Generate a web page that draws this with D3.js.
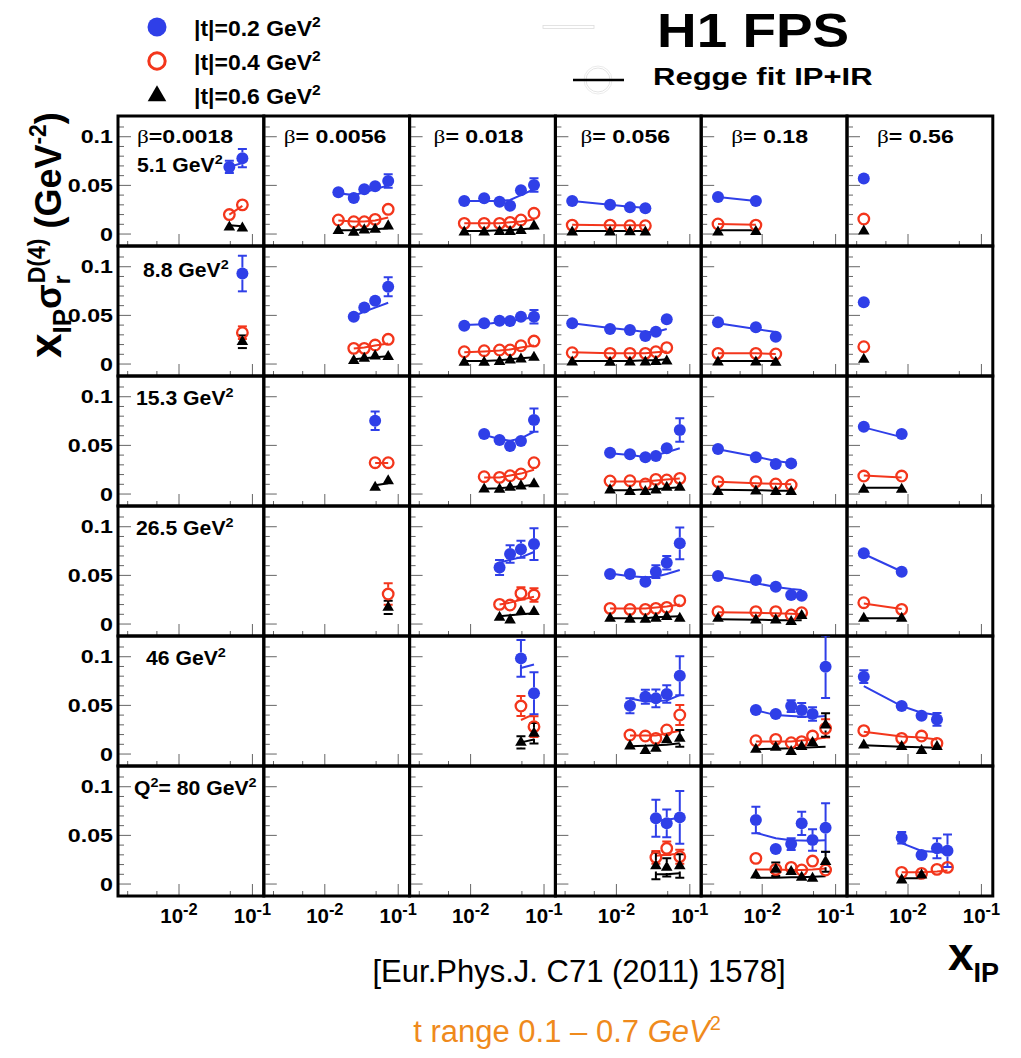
<!DOCTYPE html>
<html>
<head>
<meta charset="utf-8">
<script src="https://cdn.jsdelivr.net/npm/d3@7"></script>
<style>
  body { margin: 0; background: #fff; }
  text { font-family: "Liberation Sans", Arial, sans-serif; font-weight: bold; fill: #000; }
</style>
</head>
<body>
<svg id="chart" width="1021" height="1058"></svg>
<script>
// x_IP bin centres shared by all panels
const xIP = [0.0025, 0.0082, 0.0153, 0.0248, 0.0345, 0.0485, 0.073];
const q2Labels = ['5.1', '8.8', '15.3', '26.5', '46', '80'];
const betaLabels = ['0.0018', '0.0056', '0.018', '0.056', '0.18', '0.56'];
const tLabels = ['0.2', '0.4', '0.6'];
const yTickLabels = [[0.1, '0.1'], [0.05, '0.05'], [0, '0']];
const xMajor = [0.01, 0.1];
const xMinor = [0.002, 0.005, 0.05];

// [row (Q2), col (beta), first x_IP bin]
const panels = [
  [0,0,5],[0,1,2],[0,2,1],[0,3,0],[0,4,0],[0,5,0],
  [1,0,6],[1,1,3],[1,2,1],[1,3,0],[1,4,0],[1,5,0],
  [2,1,5],[2,2,2],[2,3,1],[2,4,0],[2,5,0],
  [3,1,6],[3,2,3],[3,3,1],[3,4,0],[3,5,0],
  [4,2,5],[4,3,2],[4,4,1],[4,5,0],
  [5,3,4],[5,4,1],[5,5,1]
];

// |t| = 0.2 GeV^2
const t02 = [
  [0.069, 0.078], [0.043, 0.037, 0.046, 0.049, 0.0545], [0.034, 0.0367, 0.0332, 0.029, 0.045, 0.0504],
  [0.034, 0.030, 0.0274, 0.0264], [0.038, 0.034], [0.057],
  [0.093], [0.0486, 0.058, 0.065, 0.0795], [0.0394, 0.0418, 0.0445, 0.0442, 0.0486, 0.0486],
  [0.0418, 0.036, 0.035, 0.0288, 0.0332, 0.046], [0.043, 0.0377, 0.028], [0.0634],
  [0.0753, null], [0.0617, 0.0555, 0.0493, 0.0545, 0.076], [0.0425, 0.0408, 0.0377, 0.039, 0.047, 0.0658],
  [0.0462, 0.0377, 0.0308, 0.0315], [0.0692, 0.0617],
  [null], [0.0582, 0.0719, 0.0768, 0.0822], [0.0514, 0.0514, 0.0435, 0.0538, 0.063, 0.0829],
  [0.0493, 0.0452, 0.0384, 0.0298, 0.0291], [0.0727, 0.0538],
  [0.0983, 0.0624], [0.0496, 0.0589, 0.0572, 0.0617, 0.0805], [0.0452, 0.0411, 0.0493, 0.0452, 0.0411, 0.0897],
  [0.0795, 0.0493, 0.0394, 0.0356],
  [0.0675, 0.0624, 0.0685], [0.0658, 0.036, 0.0411, 0.0624, 0.0452, 0.0579], [0.0476, 0.0298, 0.0367, 0.0342]
];
const t02err = [
  [0.0062, 0.0094], [0.002, 0.002, 0.002, 0.002, 0.007], [0.002, 0.002, 0.002, 0.002, 0.003, 0.007],
  [0.002, 0.002, 0.002, 0.002], [0.002, 0.002], [0.002],
  [0.0183], [0.002, 0.002, 0.003, 0.0098], [0.002, 0.002, 0.002, 0.002, 0.003, 0.0069],
  [0.002, 0.002, 0.002, 0.002, 0.002, 0.003], [0.002, 0.002, 0.002], [0.002],
  [0.0094, 0], [0.002, 0.002, 0.002, 0.002, 0.012], [0.002, 0.002, 0.002, 0.002, 0.003, 0.012],
  [0.002, 0.002, 0.002, 0.002], [0.002, 0.002],
  [0], [0.0077, 0.009, 0.0087, 0.0163], [0.002, 0.002, 0.002, 0.0065, 0.007, 0.0163],
  [0.002, 0.002, 0.002, 0.003, 0.003], [0.002, 0.002],
  [0.0188, 0.0216], [0.0077, 0.0072, 0.009, 0.009, 0.02], [0.002, 0.002, 0.006, 0.0072, 0.0069, 0.032],
  [0.0065, 0.002, 0.002, 0.0065],
  [0.019, 0.0142, 0.027], [0.0137, 0.005, 0.006, 0.012, 0.011, 0.025], [0.006, 0.0048, 0.0103, 0.0166]
];
const t02fit = [
  [0.069, 0.073], [0.042, 0.040, 0.043, 0.046, 0.050], [0.034, 0.034, 0.034, 0.035, 0.040, 0.046],
  [0.034, 0.030, 0.028, 0.027], [0.038, 0.034], [null],
  [null], [0.049, 0.054, 0.058, 0.063], [0.040, 0.041, 0.043, 0.044, 0.046, 0.048],
  [0.042, 0.037, 0.035, 0.033, 0.033, 0.036], [0.042, 0.036, 0.033], [null],
  [null, null], [0.0606, 0.0565, 0.0548, 0.0572, 0.064], [0.042, 0.040, 0.038, 0.040, 0.043, 0.047],
  [0.046, 0.0385, 0.034, 0.032], [0.0685, 0.0585],
  [null], [0.063, 0.066, 0.0685, 0.074], [0.052, 0.049, 0.048, 0.0485, 0.0514, 0.0555],
  [0.0486, 0.042, 0.038, 0.036, 0.035], [0.072, 0.054],
  [0.0885, 0.092], [0.057, 0.054, 0.0545, 0.055, 0.0605], [0.045, 0.040, 0.039, 0.0385, 0.038, 0.039],
  [0.0699, 0.0493, 0.0425, 0.040],
  [0.065, 0.066, 0.068], [0.0527, 0.047, 0.045, 0.0448, 0.0445, 0.045], [0.042, 0.034, 0.033, 0.032]
];

// |t| = 0.4 GeV^2
const t04 = [
  [0.020, 0.030], [0.0144, 0.0126, 0.0126, 0.0151, 0.0254], [0.011, 0.011, 0.011, 0.012, 0.0144, 0.0213],
  [0.0092, 0.0092, 0.0085, 0.0085], [0.0103, 0.0092], [0.0154],
  [0.0322], [0.0161, 0.0161, 0.0195, 0.0254], [0.0126, 0.0137, 0.0144, 0.0144, 0.0188, 0.0236],
  [0.0116, 0.011, 0.011, 0.011, 0.0126, 0.0168], [0.011, 0.011, 0.0103], [0.0178],
  [0.0322, 0.0322], [0.0178, 0.0171, 0.0188, 0.0206, 0.0322], [0.0134, 0.0137, 0.0103, 0.0151, 0.0144, 0.0161],
  [0.0127, 0.0127, 0.0103, 0.0093], [0.0185, 0.0185],
  [0.0308], [0.0202, 0.0195, 0.0315, 0.0298], [0.0161, 0.0151, 0.0151, 0.0161, 0.0171, 0.024],
  [0.0127, 0.0127, 0.0127, 0.0093, 0.0116], [0.0219, 0.0151],
  [0.0493, 0.0281], [0.0195, 0.0185, 0.0161, 0.0247, 0.0401], [0.0137, 0.0151, 0.0116, 0.0127, 0.0185, 0.0264],
  [0.024, 0.0161, 0.0185, 0.011],
  [0.0274, 0.0367, 0.0281], [0.0264, 0.0151, 0.0171, 0.0144, 0.0236, 0.0144], [0.012, 0.011, 0.0151, 0.0171]
];
const t04err = [
  [0.002, 0.002], [0.002, 0.002, 0.002, 0.002, 0.002], [0.002, 0.002, 0.002, 0.002, 0.002, 0.002],
  [0.002, 0.002, 0.002, 0.002], [0.002, 0.002], [0.002],
  [0.0065], [0.002, 0.002, 0.002, 0.002], [0.002, 0.002, 0.002, 0.002, 0.002, 0.002],
  [0.002, 0.002, 0.002, 0.002, 0.002, 0.002], [0.002, 0.002, 0.002], [0.002],
  [0.002, 0.002], [0.002, 0.002, 0.002, 0.002, 0.002], [0.002, 0.002, 0.002, 0.002, 0.002, 0.002],
  [0.002, 0.002, 0.002, 0.002], [0.002, 0.002],
  [0.011], [0.002, 0.002, 0.0062, 0.0069], [0.002, 0.002, 0.002, 0.002, 0.002, 0.002],
  [0.002, 0.002, 0.002, 0.002, 0.002], [0.002, 0.002],
  [0.0103, 0.0106], [0.002, 0.002, 0.002, 0.003, 0.0103], [0.002, 0.002, 0.002, 0.002, 0.003, 0.0094],
  [0.002, 0.002, 0.002, 0.002],
  [0.0065, 0.0069, 0.0072], [0.003, 0.002, 0.002, 0.002, 0.003, 0.004], [0.002, 0.002, 0.002, 0.002]
];
const t04fit = [
  [0.020, 0.029], [0.014, 0.013, 0.013, 0.014, 0.017], [0.011, 0.011, 0.011, 0.012, 0.013, 0.015],
  [0.0095, 0.009, 0.009, 0.009], [0.0103, 0.0095], [null],
  [null], [0.016, 0.017, 0.019, 0.021], [0.012, 0.013, 0.014, 0.015, 0.017, 0.019],
  [0.012, 0.011, 0.011, 0.011, 0.012, 0.013], [0.011, 0.011, 0.0103], [null],
  [0.032, 0.032], [0.017, 0.017, 0.019, 0.021, 0.025], [0.013, 0.013, 0.013, 0.014, 0.015, 0.016],
  [0.0125, 0.011, 0.0105, 0.010], [0.019, 0.017],
  [null], [0.020, 0.022, 0.025, 0.028], [0.016, 0.016, 0.016, 0.017, 0.018, 0.020],
  [0.012, 0.0115, 0.011, 0.0105, 0.010], [0.021, 0.0155],
  [0.035, 0.041], [0.019, 0.019, 0.019, 0.021, 0.024], [0.013, 0.013, 0.013, 0.014, 0.015, 0.017],
  [0.023, 0.018, 0.017, 0.015],
  [0.029, 0.030, 0.031], [0.015, 0.015, 0.0145, 0.0145, 0.015, 0.016], [0.012, 0.012, 0.013, 0.014]
];

// |t| = 0.6 GeV^2
const t06 = [
  [0.007, 0.006], [0.0034, 0.0017, 0.0041, 0.0048, 0.0082], [0.002, 0.002, 0.0025, 0.0025, 0.0035, 0.0082],
  [0.002, 0.002, 0.0022, 0.002], [0.002, 0.0024], [0.003],
  [0.0229], [0.0034, 0.0058, 0.0082, 0.0075], [0.0017, 0.0017, 0.0024, 0.0041, 0.0051, 0.0069],
  [0.002, 0.0017, 0.002, 0.002, 0.0024, 0.003], [0.002, 0.002, 0.0017], [0.0048],
  [0.0069, 0.0134], [0.0051, 0.0048, 0.0069, 0.0082, 0.0103], [0.0041, 0.0024, 0.0024, 0.0041, 0.0069, 0.0069],
  [0.0024, 0.003, 0.0024, 0.0024], [0.0048, 0.0048],
  [0.0171], [0.0069, 0.0041, 0.0127, 0.0127], [0.0058, 0.0048, 0.0048, 0.0058, 0.0075, 0.0058],
  [0.0058, 0.0041, 0.0041, 0.0024, 0.0085], [0.0058, 0.0058],
  [0.012, 0.0213], [0.0082, 0.0034, 0.0058, 0.0144, 0.0161], [0.0048, 0.0069, 0.0024, 0.0075, 0.0116, 0.0298],
  [0.0092, 0.0075, 0.0034, 0.0075],
  [0.0185, 0.0171, 0.0185], [0.0092, 0.0151, 0.0127, 0.0069, 0.0058, 0.0229], [0.0041, 0.0092, null, null]
];
const t06err = [
  [0.002, 0.002], [0.002, 0.002, 0.002, 0.002, 0.002], [0.002, 0.002, 0.002, 0.002, 0.002, 0.002],
  [0.002, 0.002, 0.002, 0.002], [0.002, 0.002], [0.002],
  [0.0065], [0.002, 0.002, 0.002, 0.002], [0.002, 0.002, 0.002, 0.002, 0.002, 0.002],
  [0.002, 0.002, 0.002, 0.002, 0.002, 0.002], [0.002, 0.002, 0.002], [0.002],
  [0.002, 0.002], [0.002, 0.002, 0.002, 0.002, 0.002], [0.002, 0.002, 0.002, 0.002, 0.002, 0.002],
  [0.002, 0.002, 0.002, 0.002], [0.002, 0.002],
  [0.0069], [0.002, 0.002, 0.002, 0.002], [0.002, 0.002, 0.002, 0.002, 0.002, 0.002],
  [0.002, 0.002, 0.002, 0.002, 0.002], [0.002, 0.002],
  [0.0062, 0.0106], [0.002, 0.002, 0.002, 0.003, 0.0086], [0.002, 0.002, 0.002, 0.002, 0.002, 0.012],
  [0.002, 0.002, 0.002, 0.002],
  [0.0137, 0.0094, 0.012], [0.003, 0.0069, 0.003, 0.002, 0.002, 0.0103], [0.002, 0.002, 0, 0]
];
const t06fit = [
  [0.009, 0.008], [0.004, 0.004, 0.005, 0.005, 0.006], [0.003, 0.003, 0.004, 0.004, 0.005, 0.006],
  [0.003, 0.003, 0.003, 0.003], [0.004, 0.004], [null],
  [null], [0.005, 0.006, 0.007, 0.008], [0.003, 0.003, 0.004, 0.005, 0.006, 0.007],
  [0.003, 0.003, 0.003, 0.004, 0.004, 0.005], [0.003, 0.003, 0.003], [null],
  [0.009, 0.011], [0.0055, 0.006, 0.007, 0.008, 0.0095], [0.004, 0.004, 0.005, 0.005, 0.006, 0.007],
  [0.0045, 0.004, 0.0035, 0.0035], [0.0065, 0.0065],
  [null], [0.008, 0.009, 0.010, 0.011], [0.006, 0.006, 0.006, 0.007, 0.0075, 0.008],
  [0.005, 0.0045, 0.004, 0.004, 0.004], [0.006, 0.006],
  [0.012, 0.015], [0.008, 0.0085, 0.009, 0.0095, 0.011], [0.005, 0.0055, 0.006, 0.0065, 0.007, 0.0075],
  [0.009, 0.0075, 0.007, 0.0065],
  [0.010, 0.010, 0.011], [0.0065, 0.0065, 0.007, 0.007, 0.0075, 0.008], [0.006, 0.006, null, null]
];

const blue = '#2f3fe8';
const red = '#f3361c';
const gridLeft = 118, gridTop = 116, pw = 145.8, ph = 130;

const svg = d3.select('#chart');

const x = d3.scaleLog().domain([0.001476, 0.1429]).range([0, pw]);
const y = d3.scaleLinear().domain([-0.0123, 0.1213]).range([ph, 0]);

svg.append('defs').append('clipPath').attr('id', 'pclip')
  .append('rect').attr('width', pw).attr('height', ph);

const cells = d3.cross(d3.range(6), d3.range(6));
const cell = svg.selectAll('g.cell')
  .data(cells)
  .join('g')
    .attr('class', 'cell')
    .attr('transform', d => `translate(${gridLeft + d[1] * pw},${gridTop + d[0] * ph})`);

// y ticks every 0.01, long ones every 0.05
const yTickVals = d3.range(0, 12).map(k => k / 100);
cell.selectAll('line.yt')
  .data(yTickVals)
  .join('line')
    .attr('class', 'yt')
    .attr('x1', 0)
    .attr('x2', v => Math.round(v * 100) % 5 === 0 ? 13 : 6)
    .attr('y1', v => y(v))
    .attr('y2', v => y(v))
    .attr('stroke', '#666')
    .attr('stroke-width', 1);

cell.selectAll('line.xt')
  .data(xMajor.map(v => [v, 12]).concat(xMinor.map(v => [v, 5])))
  .join('line')
    .attr('class', 'xt')
    .attr('x1', d => x(d[0]))
    .attr('x2', d => x(d[0]))
    .attr('y1', ph)
    .attr('y2', d => ph - d[1])
    .attr('stroke', '#666')
    .attr('stroke-width', 1);

const series = [
  { vals: t02, errs: t02err, fits: t02fit, color: blue, kind: 'dot' },
  { vals: t04, errs: t04err, fits: t04fit, color: red, kind: 'ring' },
  { vals: t06, errs: t06err, fits: t06fit, color: '#000', kind: 'tri' }
];
const markerR = { dot: 6, ring: 6.3, tri: 5.5 };

const fitLine = d3.line()
  .defined(p => p.f != null)
  .x(p => x(p.x))
  .y(p => y(p.f));

panels.forEach(([r, c, b0], i) => {
  const g = svg.append('g')
    .attr('transform', `translate(${gridLeft + c * pw},${gridTop + r * ph})`)
    .attr('clip-path', 'url(#pclip)');

  const pts = series.map(s => s.vals[i].map((v, k) => ({
    x: xIP[b0 + k], v: v, e: s.errs[i][k], f: s.fits[i][k]
  })));

  series.forEach((s, si) => {
    const p = pts[si];
    if (p.filter(d => d.f != null).length > 1) {
      g.append('path')
        .attr('d', fitLine(p))
        .attr('fill', 'none')
        .attr('stroke', s.color)
        .attr('stroke-width', 2);
    }
  });

  series.forEach((s, si) => {
    const rad = markerR[s.kind];
    pts[si].filter(d => d.v != null).forEach(d => {
      const yc = y(d.v), yt = y(d.v + d.e), yb = y(d.v - d.e), xc = x(d.x);
      if (yc - yt < rad - 0.5) return;
      const eb = g.append('g').attr('stroke', s.color).attr('stroke-width', 2);
      if (yc - yt > rad) {
        eb.append('line').attr('x1', xc).attr('x2', xc).attr('y1', yt).attr('y2', yc - rad);
        eb.append('line').attr('x1', xc).attr('x2', xc).attr('y1', yc + rad).attr('y2', yb);
      }
      eb.append('line').attr('x1', xc - 4.5).attr('x2', xc + 4.5).attr('y1', yt).attr('y2', yt);
      eb.append('line').attr('x1', xc - 4.5).attr('x2', xc + 4.5).attr('y1', yb).attr('y2', yb);
    });
  });

  series.forEach((s, si) => {
    const p = pts[si].filter(d => d.v != null);
    if (s.kind === 'tri') {
      g.selectAll(null).data(p).join('path')
        .attr('d', d3.symbol(d3.symbolTriangle, 58))
        .attr('transform', d => `translate(${x(d.x)},${y(d.v)})`)
        .attr('fill', '#000');
    } else {
      g.selectAll(null).data(p).join('circle')
        .attr('cx', d => x(d.x))
        .attr('cy', d => y(d.v))
        .attr('r', s.kind === 'dot' ? 6 : 5.3)
        .attr('fill', s.kind === 'dot' ? s.color : 'none')
        .attr('stroke', s.kind === 'dot' ? 'none' : s.color)
        .attr('stroke-width', 2.3);
    }
  });
});

// panel frames
cell.append('rect')
  .attr('width', pw)
  .attr('height', ph)
  .attr('fill', 'none')
  .attr('stroke', '#000')
  .attr('stroke-width', 3);

// text with super/subscripts, optionally stretched horizontally
// parts: plain strings, or [text, 'sup'|'sub'|null, greek?]
function rich(tx, ty, parts, size, sx, anchor, supScale) {
  const t = svg.append('text')
    .attr('transform', `translate(${tx},${ty}) scale(${sx},1)`)
    .attr('font-size', size)
    .attr('text-anchor', anchor || 'start');
  let shift = 0;
  parts.forEach(p => {
    const arr = Array.isArray(p) ? p : [p, null, false];
    const kind = arr[1];
    const target = kind === 'sup' ? -size * 0.42 : kind === 'sub' ? size * 0.3 : 0;
    const ts = t.append('tspan')
      .attr('dy', target - shift)
      .attr('font-size', kind ? size * (supScale || 0.68) : size)
      .text(arr[0]);
    if (arr[2]) ts.style('font-weight', 'normal').style('font-family', '"Liberation Serif", serif');
    shift = target;
  });
  return t;
}

// y tick labels
d3.range(6).forEach(r => {
  yTickLabels.forEach(([v, s]) => {
    rich(113, gridTop + r * ph + y(v) + 6.6, [s], 18.6, 1.25, 'end');
  });
});

// x tick labels
d3.range(6).forEach(c => {
  xMajor.forEach(v => {
    rich(gridLeft + c * pw + x(v), 923, ['10', ['-' + Math.round(-Math.log10(v)), 'sup']], 19.5, 1.05, 'middle', 0.8);
  });
});

// beta labels
const betaOffsets = [19, 20, 24, 25, 30, 30];
betaLabels.forEach((b, c) => {
  rich(gridLeft + c * pw + betaOffsets[c], 143, [['β', null, true], (c === 0 ? '=' : '= ') + b], 19, 1.22);
});

// Q2 labels
const q2Pos = [[137, 172], [143, 277], [136, 405], [136, 535], [146, 665], [134, 795]];
q2Labels.forEach((q, r) => {
  const parts = r === 5
    ? ['Q', ['2', 'sup'], '= ' + q + ' GeV', ['2', 'sup']]
    : [q + ' GeV', ['2', 'sup']];
  rich(q2Pos[r][0], q2Pos[r][1], parts, 20, 1.06);
});

// legend
const legY = [27, 61, 95];
svg.append('circle').attr('cx', 157).attr('cy', legY[0]).attr('r', 9.5).attr('fill', blue);
svg.append('circle').attr('cx', 157).attr('cy', legY[1]).attr('r', 8.2)
  .attr('fill', 'none').attr('stroke', red).attr('stroke-width', 3);
svg.append('path').attr('d', d3.symbol(d3.symbolTriangle, 150))
  .attr('transform', `translate(157,${legY[2] + 1})`).attr('fill', '#000');
tLabels.forEach((t, k) => {
  rich(194, legY[k] + 9, ['|t|=' + t + ' GeV', ['2', 'sup']], 22.5, 1.02);
});

// title block
rich(657, 47, ['H1 FPS'], 49, 1.12);
svg.append('rect').attr('x', 543).attr('y', 25.5).attr('width', 51).attr('height', 3)
  .attr('fill', 'none').attr('stroke', '#ddd').attr('stroke-width', 0.8);
svg.append('circle').attr('cx', 598).attr('cy', 80).attr('r', 12)
  .attr('fill', 'none').attr('stroke', '#ddd').attr('stroke-width', 0.8);
svg.append('circle').attr('cx', 598).attr('cy', 80).attr('r', 14)
  .attr('fill', 'none').attr('stroke', '#e6e6e6').attr('stroke-width', 0.8);
svg.append('line').attr('x1', 573).attr('x2', 624).attr('y1', 80).attr('y2', 80)
  .attr('stroke', '#000').attr('stroke-width', 2.5);
rich(653, 85, ['Regge fit IP+IR'], 23.5, 1.32);

// y axis title
const yt = svg.append('text')
  .attr('transform', 'translate(61,358) rotate(-90)')
  .attr('font-size', 36);
yt.append('tspan').attr('font-size', 44).text('x');
yt.append('tspan').attr('font-size', 26).attr('dy', 10).text('IP');
yt.append('tspan').attr('dy', -10).text('σ');
yt.append('tspan').attr('font-size', 23).attr('dy', 9).text('r');
yt.append('tspan').attr('font-size', 23).attr('dx', -8).attr('dy', -25).text('D(4)');
yt.append('tspan').attr('dy', 16).text(' (GeV');
yt.append('tspan').attr('font-size', 23).attr('dy', -15).text('-2');
yt.append('tspan').attr('dy', 15).text(')');

// x axis title
const xt = svg.append('text').attr('transform', 'translate(948,970)').attr('font-size', 46);
xt.append('tspan').text('x');
xt.append('tspan').attr('font-size', 27).attr('dy', 12).text('IP');

// reference and t range notes
svg.append('text')
  .attr('x', 579).attr('y', 982)
  .attr('text-anchor', 'middle')
  .attr('font-size', 31)
  .style('font-weight', 'normal')
  .text('[Eur.Phys.J. C71 (2011) 1578]');

const note = svg.append('text')
  .attr('x', 567).attr('y', 1042)
  .attr('text-anchor', 'middle')
  .attr('font-size', 31)
  .style('font-weight', 'normal')
  .style('fill', '#ef8a1c');
note.append('tspan').text('t range 0.1 – 0.7 ');
note.append('tspan').style('font-style', 'italic').text('GeV');
note.append('tspan').attr('font-size', 20).attr('dy', -12).text('2');
</script>
</body>
</html>
